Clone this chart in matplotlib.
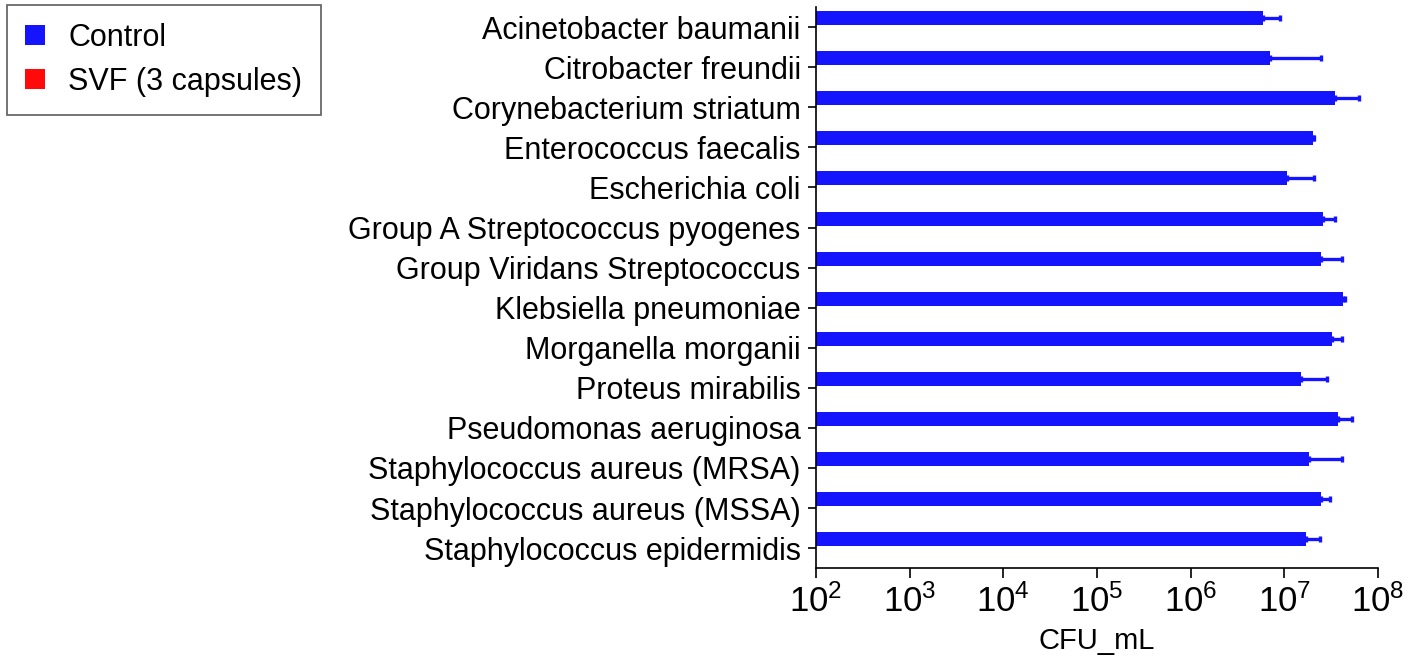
import matplotlib
matplotlib.use("Agg")
import matplotlib.pyplot as plt
import numpy as np

plt.rcParams["font.family"] = ["Liberation Sans", "DejaVu Sans"]

species = [
    "Acinetobacter baumanii",
    "Citrobacter freundii",
    "Corynebacterium striatum",
    "Enterococcus faecalis",
    "Escherichia coli",
    "Group A Streptococcus pyogenes",
    "Group Viridans Streptococcus",
    "Klebsiella pneumoniae",
    "Morganella morganii",
    "Proteus mirabilis",
    "Pseudomonas aeruginosa",
    "Staphylococcus aureus (MRSA)",
    "Staphylococcus aureus (MSSA)",
    "Staphylococcus epidermidis",
]
# CFU/mL, mean and upper end of error bar
control = [5.9e6, 7.1e6, 3.5e7, 2.05e7, 1.06e7, 2.6e7, 2.45e7,
           4.25e7, 3.2e7, 1.53e7, 3.8e7, 1.86e7, 2.45e7, 1.7e7]
control_hi = [9.0e6, 2.5e7, 6.3e7, 2.1e7, 2.07e7, 3.45e7, 4.1e7,
              4.45e7, 4.15e7, 2.85e7, 5.3e7, 4.15e7, 3.1e7, 2.4e7]
svf = [0] * len(species)  # no growth with SVF (3 capsules)

BLUE = "#1414ff"
RED = "#ff0a0a"

fig = plt.figure(figsize=(14.19, 6.56), dpi=100)
ax = fig.add_axes([0.575, 0.134, 0.396, 0.855])

y = np.arange(len(species))
h, off = 0.35, 0.225
ctrl = np.array(control)
err = np.vstack([np.zeros_like(ctrl), np.array(control_hi) - ctrl])
ax.barh(y - off, ctrl, height=h, color=BLUE, label="Control",
        xerr=err, error_kw=dict(ecolor=BLUE, elinewidth=2.4, capsize=2.5, capthick=2.4))
ax.barh(y + off, svf, height=h, color=RED, label="SVF (3 capsules)")

ax.set_xscale("log")
ax.set_xlim(1e2, 1e8)
ax.set_ylim(len(species) - 0.5, -0.5)
ax.set_yticks(y)
ax.set_yticklabels(species, fontsize=22)
ax.set_xticks([10.0 ** k for k in range(2, 9)])
ax.xaxis.set_minor_locator(matplotlib.ticker.NullLocator())
ax.tick_params(axis="x", labelsize=25, length=7, width=1.2, pad=5)
ax.tick_params(axis="y", length=6, width=1.2, pad=5)
ax.set_xlabel("CFU_mL", fontsize=21)
ax.xaxis.set_label_coords(0.5, -0.105)
for s in ["top", "right"]:
    ax.spines[s].set_visible(False)
for s in ["left", "bottom"]:
    ax.spines[s].set_linewidth(1.2)

leg = fig.legend(loc="upper left", bbox_to_anchor=(0.005, 0.993), fontsize=22,
                 frameon=True, fancybox=False, edgecolor="#333333",
                 handlelength=0.65, handleheight=0.65, handletextpad=0.75,
                 borderpad=0.6, labelspacing=0.45, borderaxespad=0)
leg.get_frame().set_linewidth(1.2)

fig.savefig("out.png", dpi=100)
